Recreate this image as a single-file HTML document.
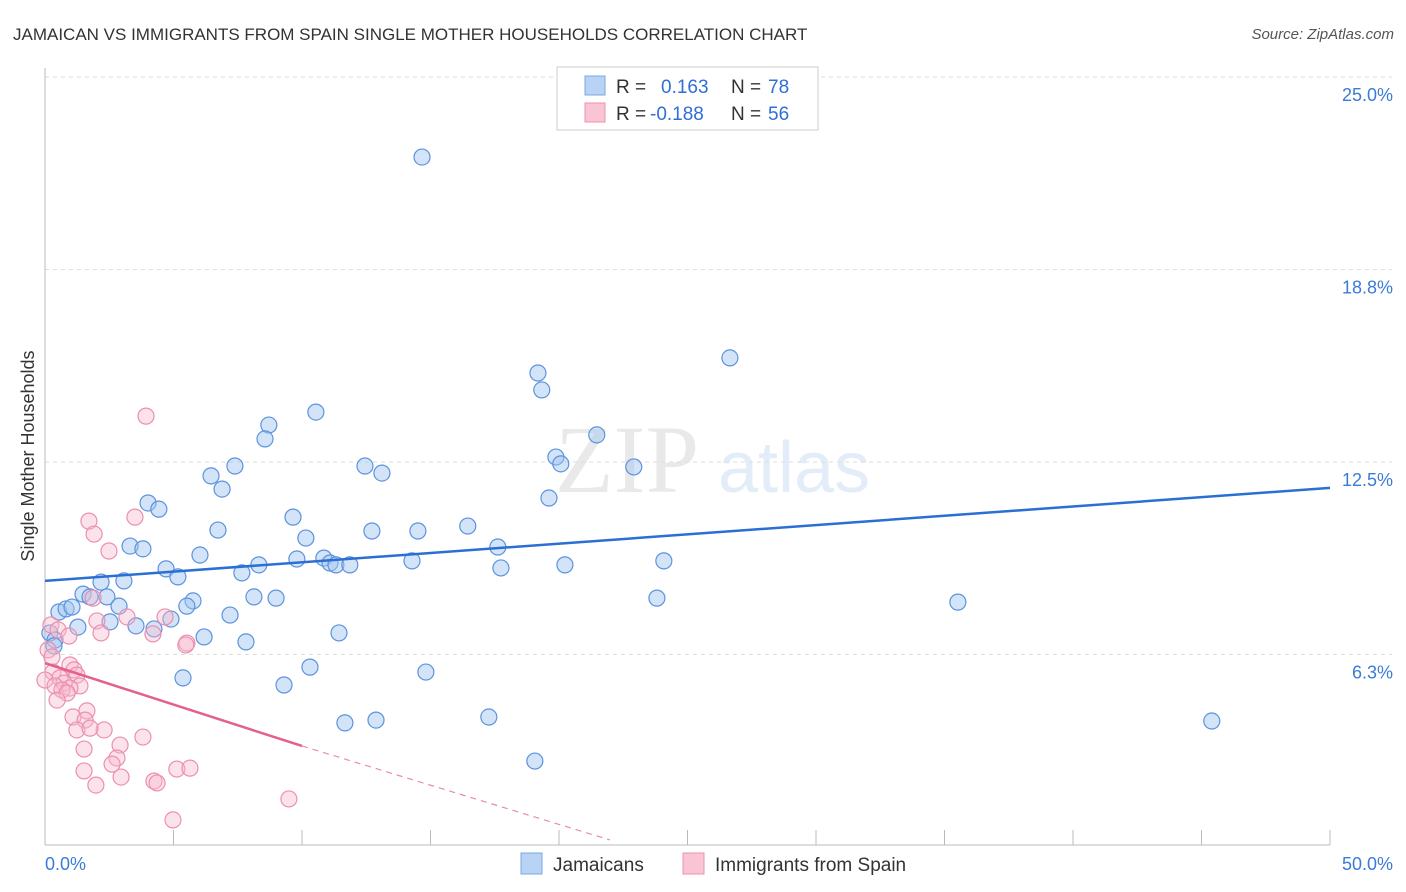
<!DOCTYPE html>
<html><head><meta charset="utf-8"><style>
body{margin:0;background:#fff;font-family:"Liberation Sans",sans-serif;}
svg{display:block}
</style></head><body>
<svg id="chart" width="1406" height="892" xmlns="http://www.w3.org/2000/svg">
<text x="13" y="40" font-size="17" fill="#333">JAMAICAN VS IMMIGRANTS FROM SPAIN SINGLE MOTHER HOUSEHOLDS CORRELATION CHART</text>
<text x="1394" y="39" font-size="15" fill="#555" text-anchor="end" font-style="italic">Source: ZipAtlas.com</text>
<g opacity="0.18">
<text x="555" y="492" font-family="Liberation Serif,serif" font-size="96" fill="#888">ZIP</text>
<text x="718" y="492" font-size="72" fill="#6a9ee0">atlas</text>
</g>
<g id="grid"></g>
<g id="axes"></g>
<g id="marks"></g>
<text transform="translate(34,456) rotate(-90)" font-size="18" fill="#333" text-anchor="middle">Single Mother Households</text>
<g>
<rect x="557" y="67" width="261" height="63" fill="#fff" stroke="#ccc"/>
<rect x="585" y="76" width="20" height="19" fill="#b9d3f5" stroke="#7aa7e6"/>
<rect x="585" y="103" width="20" height="19" fill="#f9c4d4" stroke="#ee90ab"/>
<text x="616" y="93" font-size="19" fill="#333">R = </text><text x="661" y="93" font-size="19" fill="#2f6fd6">0.163</text>
<text x="731" y="93" font-size="19" fill="#333">N = </text><text x="768" y="93" font-size="19" fill="#2f6fd6">78</text>
<text x="616" y="120" font-size="19" fill="#333">R = </text><text x="650" y="120" font-size="19" fill="#2f6fd6">-0.188</text>
<text x="731" y="120" font-size="19" fill="#333">N = </text><text x="768" y="120" font-size="19" fill="#2f6fd6">56</text>
</g>
<g>
<rect x="521" y="853" width="21" height="21" fill="#b9d3f5" stroke="#7aa7e6"/>
<text x="553" y="871" font-size="19" fill="#333">Jamaicans</text>
<rect x="683" y="853" width="21" height="21" fill="#f9c4d4" stroke="#ee90ab"/>
<text x="715" y="871" font-size="19" fill="#333">Immigrants from Spain</text>
</g>
</svg>
<script>
const blueX=[14.67,26.65,19.18,19.33,10.54,8.71,8.56,21.47,7.39,12.45,19.88,20.07,22.91,13.11,6.46,6.89,19.61,4.01,4.43,9.65,6.73,12.72,14.51,16.45,10.15,3.31,3.81,17.62,6.03,9.80,10.85,11.09,11.32,11.86,14.28,20.23,24.08,8.32,4.71,5.17,7.66,17.74,2.18,3.07,1.48,1.75,2.41,8.13,8.99,23.81,35.52,5.76,5.52,2.88,0.54,0.82,1.05,4.90,7.20,2.53,3.54,4.24,1.28,0.19,0.39,0.35,6.19,7.82,11.44,10.31,14.82,5.37,9.30,11.67,12.88,17.27,45.40,19.06];
const blueY=[22.4,15.88,15.39,14.84,14.12,13.70,13.25,13.38,12.37,12.37,12.66,12.44,12.34,12.14,12.05,11.62,11.33,11.17,10.97,10.71,10.29,10.26,10.26,10.42,10.03,9.77,9.68,9.74,9.48,9.35,9.38,9.22,9.16,9.16,9.29,9.16,9.29,9.16,9.03,8.77,8.90,9.06,8.60,8.64,8.21,8.12,8.12,8.12,8.08,8.08,7.95,7.99,7.82,7.82,7.63,7.73,7.79,7.40,7.53,7.31,7.18,7.08,7.14,6.95,6.72,6.53,6.82,6.66,6.95,5.84,5.68,5.49,5.26,4.03,4.12,4.22,4.09,2.79];
const pinkX=[3.93,1.71,3.50,1.91,2.49,1.87,4.67,2.02,3.19,2.18,4.20,5.52,5.48,0.23,0.51,0.93,0.12,0.27,0.97,1.13,0.31,1.24,0.58,0.0,0.74,1.36,0.39,0.97,0.66,0.86,0.47,1.63,1.09,1.56,1.24,2.30,1.75,3.81,2.92,1.52,2.80,2.61,1.52,2.96,4.24,4.36,5.13,5.64,1.98,9.49,4.98];
const pinkY=[13.99,10.58,10.71,10.16,9.61,8.08,7.47,7.34,7.47,6.95,6.92,6.62,6.56,7.21,7.05,6.85,6.40,6.17,5.91,5.75,5.68,5.58,5.49,5.42,5.32,5.23,5.23,5.16,5.10,5.00,4.77,4.42,4.22,4.12,3.80,3.80,3.86,3.57,3.31,3.18,2.89,2.69,2.47,2.27,2.14,2.08,2.53,2.56,2.01,1.56,0.88];
const blueTrend=[8.64,11.66];
const pinkTrend=[5.97,3.28,0.23];
const pinkTrendX=[0,10.0,21.98];
const yTicks=[6.25,12.5,18.75,25];
const yTickLabels=["6.3%","12.5%","18.8%","25.0%"];
const xTicks=[0,5,10,15,20,25,30,35,40,45,50];

const X=v=>45+v*(1285/50);
const Y=v=>847-v*30.8;
const NS="http://www.w3.org/2000/svg";
function mk(tag,attrs,parent){const e=document.createElementNS(NS,tag);for(const k in attrs)e.setAttribute(k,attrs[k]);document.getElementById(parent).appendChild(e);return e;}
yTicks.forEach((t,i)=>{
  const l=mk('line',{x1:45,x2:1392,y1:Y(t),y2:Y(t),stroke:'#ddd','stroke-dasharray':'4,4'},'grid');
  
  
  const tx=mk('text',{x:1393,y:Y(t)+24,'font-size':18,fill:'#3b7bd8','text-anchor':'end'},'axes');
  tx.textContent=yTickLabels[i];
  
  
});
const ax=mk('line',{x1:45,x2:1330,y1:845,y2:845,stroke:'#bbb'},'axes');


const ay=mk('line',{x1:45,x2:45,y1:68,y2:845,stroke:'#bbb'},'axes');


xTicks.forEach(t=>{
  const l=mk('line',{x1:X(t),x2:X(t),y1:830,y2:845,stroke:'#bbb'},'axes');
  
  
});
const x0=mk('text',{x:45,y:870,'font-size':18,fill:'#3b7bd8'},'axes');x0.textContent='0.0%';


const x1=mk('text',{x:1393,y:870,'font-size':18,fill:'#3b7bd8','text-anchor':'end'},'axes');x1.textContent='50.0%';


blueX.forEach((v,i)=>{
  const c=mk('circle',{cx:X(v),cy:Y(blueY[i]),r:8,fill:'rgba(160,196,240,0.45)',stroke:'#5b93dd','stroke-width':1.2},'marks');
  
  
});
pinkX.forEach((v,i)=>{
  const c=mk('circle',{cx:X(v),cy:Y(pinkY[i]),r:8,fill:'rgba(248,184,204,0.4)',stroke:'#ec8fae','stroke-width':1.2},'marks');
  
  
});
const bl=mk('line',{x1:X(0),y1:Y(blueTrend[0]),x2:X(50),y2:Y(blueTrend[1]),stroke:'#2b6fd4','stroke-width':2.5},'marks');


const pl=mk('line',{x1:X(pinkTrendX[0]),y1:Y(pinkTrend[0]),x2:X(pinkTrendX[1]),y2:Y(pinkTrend[1]),stroke:'#e4608e','stroke-width':2.5},'marks');


const pd=mk('line',{x1:X(pinkTrendX[1]),y1:Y(pinkTrend[1]),x2:X(pinkTrendX[2]),y2:Y(pinkTrend[2]),stroke:'#e88aab','stroke-width':1.2,'stroke-dasharray':'6,5'},'marks');


</script>
</body></html>
